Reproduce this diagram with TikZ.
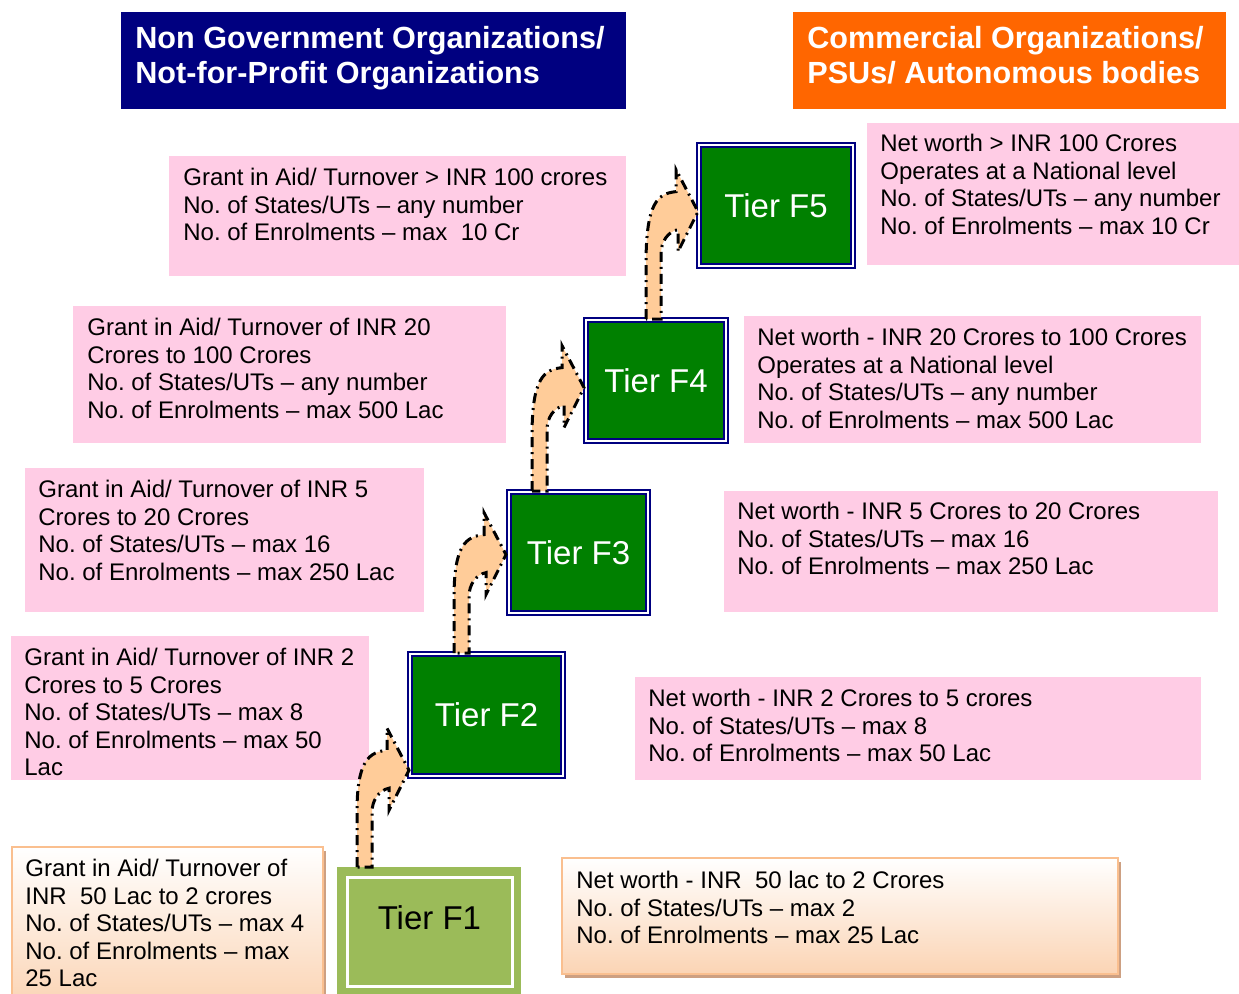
\documentclass[tikz,border=0pt]{standalone}
\usepackage{fontspec}
\setmainfont{Liberation Sans}
\frenchspacing
\usetikzlibrary{positioning,calc,shadows}

\definecolor{ngonavy}{RGB}{0,0,128}
\definecolor{comorange}{RGB}{255,102,0}
\definecolor{infopink}{RGB}{255,204,229}
\definecolor{tiergreen}{RGB}{0,128,0}
\definecolor{tierlight}{RGB}{155,187,89}
\definecolor{arrowpeach}{RGB}{255,204,153}
\definecolor{peachline}{RGB}{250,191,143}
\definecolor{peachfill}{RGB}{251,212,180}
\definecolor{shadowtan}{RGB}{205,160,130}

\tikzset{
  headbox/.style={anchor=north west, inner sep=0pt},
  headtext/.style={anchor=north west, inner sep=0pt, text=white, align=left,
    font=\fontsize{15.3}{17.5}\selectfont\bfseries},
  infobox/.style={anchor=north west, fill=infopink, inner sep=0pt},
  basebox/.style={anchor=north west, inner sep=0pt, draw=peachline, line width=1pt,
    top color=white, bottom color=peachfill,
    drop shadow={fill=shadowtan, opacity=1, shadow xshift=1.5pt, shadow yshift=-2pt}},
  infotext/.style={anchor=north west, inner sep=0pt, align=left,
    font=\fontsize{12}{13.7}\selectfont},
  tierbox/.style={anchor=north west, fill=tiergreen, draw=ngonavy, line width=1.1pt,
    double=white, double distance=0.7pt, text=white, font=\fontsize{16.5}{19}\selectfont},
  tierbase/.style={anchor=north west, fill=tierlight, inner sep=0pt},
  stepline/.style={fill=arrowpeach, draw=black, line width=1.5pt,
    dash pattern=on 5pt off 2.5pt on 1pt off 2.5pt}
}

% bent step arrow: #1 source node, #2 tip
\newcommand\stepup[2]{%
  \draw[stepline] let \p1=(#1.north), \p2=(#2) in
    (\x2-26pt,\y1) -- (\x2-26pt,\y1+27.5pt)
    .. controls (\x2-26pt,\y2+5pt) and (\x2-20pt,\y2+9pt) .. (\x2-11pt,\y2+10pt)
    -- (\x2-11pt,\y2+21pt) -- (\x2,\y2) -- (\x2-10pt,\y2-20pt) -- (\x2-10pt,\y2-9pt)
    .. controls (\x2-15pt,\y2-10pt) and (\x2-18.5pt,\y2-15pt) .. (\x2-18.5pt,\y2-21pt)
    -- (\x2-18.5pt,\y1) -- cycle;}

\begin{document}
\begin{tikzpicture}[x=0.5pt,y=-0.5pt]
\clip (0,0) rectangle (1239,993);
\fill[white] (0,0) rectangle (1239,993);

% headers
\node[headbox, fill=ngonavy, minimum width=252.5pt, minimum height=48.5pt] (ngo) at (121,12) {};
\node[headtext] (ngot) at ([shift={(14,14)}]ngo.north west) {Non Government Organizations/\\Not-for-Profit Organizations};
\node[headbox, fill=comorange, minimum width=216.5pt, minimum height=48.5pt] (com) at (793,12) {};
\node[headtext] (comt) at ([shift={(14,14)}]com.north west) {Commercial Organizations/\\PSUs/ Autonomous bodies};

% left column
\node[infobox, minimum width=228.5pt, minimum height=60pt] (l5) at (169,156) {};
\node[infotext] (l5t) at ([shift={(14,12)}]l5.north west) {Grant in Aid/ Turnover > INR 100 crores\\No. of States/UTs – any number\\No. of Enrolments – max\ \ 10 Cr};
\node[infobox, minimum width=216.5pt, minimum height=68.5pt] (l4) at (73,306) {};
\node[infotext] (l4t) at ([shift={(14,12)}]l4.north west) {Grant in Aid/ Turnover of INR 20\\Crores to 100 Crores\\No. of States/UTs – any number\\No. of Enrolments – max 500 Lac};
\node[infobox, minimum width=199.5pt, minimum height=72pt] (l3) at (25,468) {};
\node[infotext] (l3t) at ([shift={(13,12)}]l3.north west) {Grant in Aid/ Turnover of INR 5\\Crores to 20 Crores\\No. of States/UTs – max 16\\No. of Enrolments – max 250 Lac};
\node[infobox, minimum width=179pt, minimum height=72pt] (l2) at (11,636) {};
\begin{scope}
  \clip (l2.north west) rectangle (l2.south east);
  \node[infotext] (l2t) at ([shift={(13,12)}]l2.north west) {Grant in Aid/ Turnover of INR 2\\Crores to 5 Crores\\No. of States/UTs – max 8\\No. of Enrolments – max 50\\Lac};
\end{scope}
\node[basebox, minimum width=155.5pt, minimum height=80pt] (l1) at (11,846) {};
\node[infotext] (l1t) at ([shift={(14,13)}]l1.north west) {Grant in Aid/ Turnover of\\INR\ \ 50 Lac to 2 crores\\No. of States/UTs – max 4\\No. of Enrolments – max\\25 Lac};

% right column
\node[infobox, minimum width=186pt, minimum height=71pt] (r5) at (867,123) {};
\node[infotext] (r5t) at ([shift={(13,11)}]r5.north west) {Net worth > INR 100 Crores\\Operates at a National level\\No. of States/UTs – any number\\No. of Enrolments – max 10 Cr};
\node[infobox, minimum width=228.5pt, minimum height=63.5pt] (r4) at (744,316) {};
\node[infotext] (r4t) at ([shift={(13,12)}]r4.north west) {Net worth - INR 20 Crores to 100 Crores\\Operates at a National level\\No. of States/UTs – any number\\No. of Enrolments – max 500 Lac};
\node[infobox, minimum width=247pt, minimum height=60.5pt] (r3) at (724,491) {};
\node[infotext] (r3t) at ([shift={(13,11)}]r3.north west) {Net worth - INR 5 Crores to 20 Crores\\No. of States/UTs – max 16\\No. of Enrolments – max 250 Lac};
\node[infobox, minimum width=283pt, minimum height=51.5pt] (r2) at (635,677) {};
\node[infotext] (r2t) at ([shift={(13,12)}]r2.north west) {Net worth - INR 2 Crores to 5 crores\\No. of States/UTs – max 8\\No. of Enrolments – max 50 Lac};
\node[basebox, minimum width=278pt, minimum height=58pt] (r1) at (561,857) {};
\node[infotext] (r1t) at ([shift={(15,14)}]r1.north west) {Net worth - INR\ \ 50 lac to 2 Crores\\No. of States/UTs – max 2\\No. of Enrolments – max 25 Lac};

% tiers
\node[tierbox, minimum width=77pt, minimum height=60.5pt] (f5) at (698,144) {Tier F5};
\node[tierbox, minimum width=70pt, minimum height=60.5pt] (f4) at (585,319) {Tier F4};
\node[tierbox, minimum width=69.5pt, minimum height=60.5pt] (f3) at (508,491) {Tier F3};
\node[tierbox, minimum width=76.5pt, minimum height=61pt] (f2) at (409,653) {Tier F2};
\node[tierbase, minimum width=92pt, minimum height=64.5pt,
  label={[font=\fontsize{16.5}{19}\selectfont, yshift=7pt]center:Tier F1}] (f1) at (337,867) {};
\draw[white, line width=1.5pt] ([shift={(10,10)}]f1.north west) rectangle ([shift={(-9,-10)}]f1.south east);

% step arrows
\stepup{f1}{$(f2.south west)+(0,-7)$}
\stepup{f2}{$(f3.west)+(-2,2)$}
\stepup{f3}{$(f4.west)+(-1,7)$}
\stepup{f4}{$(f5.west)+(0,6)$}
\end{tikzpicture}
\end{document}
